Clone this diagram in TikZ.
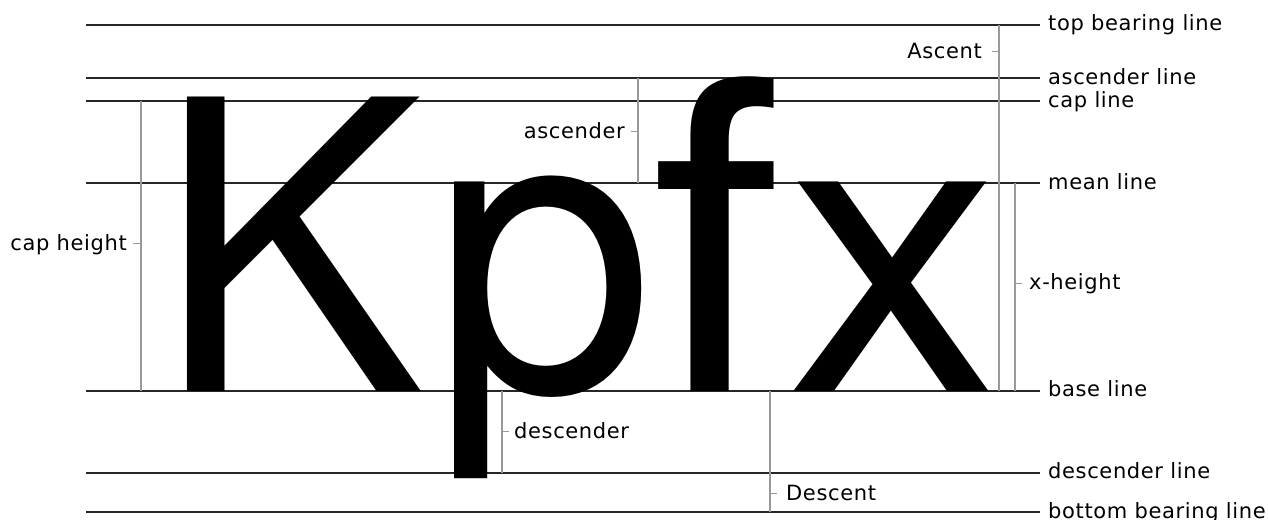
\documentclass[tikz,border=0pt]{standalone}
\usepackage{fontspec}
\setmainfont{DejaVu Sans}[LetterSpace=3]
\newfontfamily\glyphfont{TeX Gyre Heros}
\newfontfamily\hookfont{Liberation Sans}
\usetikzlibrary{positioning}

\tikzset{
  guide/.style={line width=1.6pt, black!85},
  metric/.style={line width=1.8pt, black!40},
  lbl/.style={font=\fontsize{21}{21}\selectfont, inner sep=0pt},
  glyph/.style={inner sep=0pt, anchor=base west}
}

\begin{document}
\begin{tikzpicture}[x=1pt, y=-1pt]
		\useasboundingbox (0,0) rectangle (1268,519);
		
		% Guide lines
		\draw[guide] (86,25) -- (1040,25);
		\node[lbl, anchor=base west] (topT) at (1048,31) {top bearing line};
		\draw[guide] (86,78) -- (1040,78);
		\node[lbl, anchor=base west] (ascT) at (1048,84) {ascender line};
		\draw[guide] (86,101) -- (1040,101);
		\node[lbl, anchor=base west] (capT) at (1048,107) {cap line};
		\draw[guide] (86,183) -- (1040,183);
		\node[lbl, anchor=base west] (meanT) at (1048,189) {mean line};
		\draw[guide] (86,391) -- (1040,391);
		\node[lbl, anchor=base west] (baseT) at (1048,396) {base line};
		\draw[guide] (86,473) -- (1040,473);
		\node[lbl, anchor=base west] (descT) at (1048,478) {descender line};
		\draw[guide] (86,512) -- (1040,512);
		\node[lbl, anchor=base west] (botT) at (1048,518) {bottom bearing line};
		
		% Glyphs
		\node[glyph] (K) at (155,391) {\glyphfont\fontsize{404}{404}\selectfont K};
		\node[glyph] (p) at (431.8,391) {\glyphfont\fontsize{400}{400}\selectfont p};
		\node[glyph] (f) at (652,391) {\hookfont\fontsize{435}{435}\selectfont f};
		\node[glyph] (x) at (786,391) {\scalebox{1.07}[1]{\glyphfont\fontsize{400}{400}\selectfont x}};
		
		% Metrics
		\coordinate (capA) at (141,101); \coordinate (capB) at (141,391);
		\draw[metric] (capA) -- (capB);
		\draw[metric, line width=1pt] (141,243) -- (133,243);
		\node[lbl, anchor=base east] (capH) at (127,250) {cap height};
		
		\coordinate (ascA) at (638,78); \coordinate (ascB) at (638,183);
		\draw[metric] (ascA) -- (ascB);
		\draw[metric, line width=1pt] (638,131) -- (631,131);
		\node[lbl, anchor=base east] (ascH) at (625,138) {ascender};
		
		\coordinate (dscA) at (502,391); \coordinate (dscB) at (502,473);
		\draw[metric] (dscA) -- (dscB);
		\draw[metric, line width=1pt] (502,431) -- (509,431);
		\node[lbl, anchor=base west] (dscH) at (514,438) {descender};
		
		\coordinate (DscA) at (770,391); \coordinate (DscB) at (770,512);
		\draw[metric] (DscA) -- (DscB);
		\draw[metric, line width=1pt] (770,493) -- (777,493);
		\node[lbl, anchor=base west] (DscH) at (786,500) {Descent};
		
		\coordinate (AscA) at (999,25); \coordinate (AscB) at (999,391);
		\draw[metric] (AscA) -- (AscB);
		\draw[metric, line width=1pt] (999,52) -- (992,52);
		\node[lbl, anchor=base east] (AscH) at (982,59) {Ascent};
		
		\coordinate (xA) at (1015,183); \coordinate (xB) at (1015,391);
		\draw[metric] (xA) -- (xB);
		\draw[metric, line width=1pt] (1015,283) -- (1022,283);
		\node[lbl, anchor=base west] (xH) at (1029,289) {x-height};
		
	\end{tikzpicture}
\end{document}
